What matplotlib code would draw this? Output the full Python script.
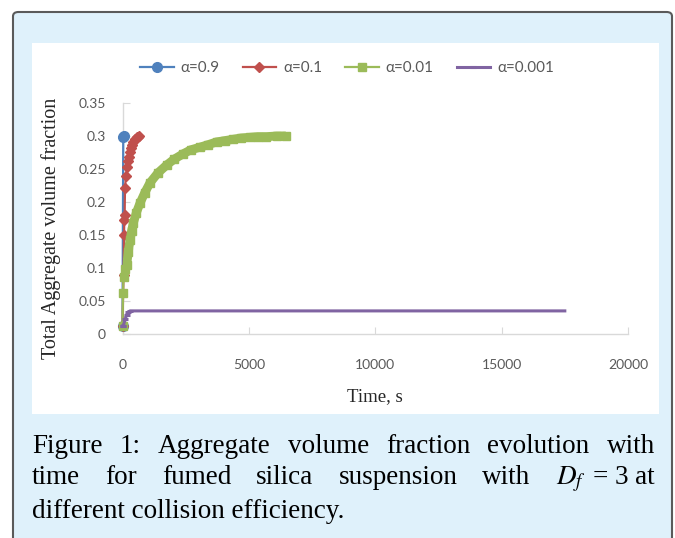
import matplotlib
matplotlib.use('Agg')
import matplotlib.pyplot as plt
from matplotlib.patches import FancyBboxPatch, Rectangle

plt.rcParams['mathtext.fontset'] = 'stix'

# 数据：时间 (s) 与总聚集体体积分数
t_09 = [0, 30, 60]
v_09 = [0.012, 0.299, 0.300]

t_01 = [0, 40, 60, 71, 85, 99, 140, 190, 230, 269, 300, 324, 370, 415, 490, 561, 620, 664]
v_01 = [0.012, 0.09, 0.15, 0.173, 0.180, 0.221, 0.24, 0.253, 0.262, 0.268, 0.276, 0.282, 0.287, 0.291, 0.295, 0.298, 0.299, 0.300]

t_001 = [0, 20, 40, 100, 166, 230, 296, 360, 427, 550, 690, 880, 1086, 1400, 1746, 2050, 2400,
         2700, 3060, 3400, 3720, 4050, 4377, 4700, 5036, 5350, 5696, 6100, 6460]
v_001 = [0.012, 0.062, 0.086, 0.098, 0.105, 0.125, 0.142, 0.156, 0.168, 0.184, 0.198, 0.214, 0.229, 0.244,
         0.256, 0.265, 0.273, 0.279, 0.283, 0.287, 0.291, 0.293, 0.295, 0.297, 0.298, 0.299, 0.299, 0.300, 0.300]

t_0001 = [0, 30, 100, 166, 230, 296, 600, 17500]
v_0001 = [0.012, 0.012, 0.022, 0.029, 0.033, 0.035, 0.035, 0.035]

labels = ['α=0.9', 'α=0.1', 'α=0.01', 'α=0.001']
colors = ['#4f81bd', '#c0504d', '#9bbb59', '#8064a2']
xticks = [0, 5000, 10000, 15000, 20000]
yticks = [0, 0.05, 0.1, 0.15, 0.2, 0.25, 0.3, 0.35]
ytick_labels = ['0', '0.05', '0.1', '0.15', '0.2', '0.25', '0.3', '0.35']

caption = [
    ['Figure', '1:', 'Aggregate', 'volume', 'fraction', 'evolution', 'with'],
    ['time', 'for', 'fumed', 'silica', 'suspension', 'with', '$D_f$', '=', '3', 'at'],
]
caption_last = 'different collision efficiency.'

W, H = 675, 538
fig = plt.figure(figsize=(W / 100, H / 100), dpi=100)
fig.patch.set_facecolor('white')


def fx(px):
    return px / W


def fy(py):
    return 1 - py / H


# 浅蓝色底框 + 白色图区
outer = FancyBboxPatch((fx(13), fy(570)), fx(672) - fx(13), fy(12) - fy(570),
                       boxstyle='round,pad=0,rounding_size=0.008',
                       transform=fig.transFigure, facecolor='#dff1fb',
                       edgecolor='#5a5a5a', lw=1.5, zorder=-2)
inner = Rectangle((fx(32), fy(414)), fx(659) - fx(32), fy(43) - fy(414),
                  transform=fig.transFigure, facecolor='white', edgecolor='none', zorder=-1)
fig.patches.extend([outer, inner])

ax = fig.add_axes([fx(122.5), fy(334), fx(628) - fx(122.5), fy(103) - fy(334)])
ax.patch.set_alpha(0)

h1, = ax.plot(t_09, v_09, color=colors[0], lw=1.6, marker='o', ms=7, clip_on=False, zorder=3)
h2, = ax.plot(t_01, v_01, color=colors[1], lw=1.6, marker='D', ms=5, clip_on=False, zorder=4)
# 绿色方块点很密，用粗线把方块连成带状
ax.plot(t_001[4:], v_001[4:], color=colors[2], lw=6.4, solid_capstyle='butt', zorder=5)
h3, = ax.plot(t_001, v_001, color=colors[2], lw=1.6, marker='s', ms=6.2, clip_on=False, zorder=5)
h4, = ax.plot(t_0001, v_0001, color=colors[3], lw=2.2, marker='_', ms=5, mew=2.2,
              markevery=[0, 1, 2, 3, 4, 5], clip_on=False, zorder=6)

ax.set_xlim(0, 20000)
ax.set_ylim(0, 0.35)
ax.set_xticks(xticks)
ax.set_xticklabels([str(x) for x in xticks])
ax.set_yticks(yticks)
ax.set_yticklabels(ytick_labels)
for s in ['top', 'right']:
    ax.spines[s].set_visible(False)
for s in ['left', 'bottom']:
    ax.spines[s].set_color('#d9d9d9')
    ax.spines[s].set_linewidth(1)
ax.tick_params(axis='both', direction='in', length=5, color='#d9d9d9',
               labelcolor='#595959', labelsize=10)
ax.tick_params(axis='x', pad=18)
ax.tick_params(axis='y', pad=12)
for lab in ax.get_xticklabels() + ax.get_yticklabels():
    lab.set_family('Lato')

fig.text(fx(51), fy(228), 'Total Aggregate volume fraction', rotation=90,
         ha='center', va='center', family='Liberation Serif', fontsize=14.5, color='#262626')
fig.text(fx(375), fy(397), 'Time, s', ha='center', va='center',
         family='Liberation Serif', fontsize=13.5, color='#262626')

fig.legend([h1, h2, h3, h4], labels, loc='center', bbox_to_anchor=(fx(347), fy(68)),
           ncol=4, frameon=False, handlelength=2.2, handletextpad=0.45,
           columnspacing=1.5, prop={'family': 'Lato', 'size': 11}, labelcolor='#595959')

# 图注：两端对齐
cap_size = 19.5
renderer = fig.canvas.get_renderer()


def justify(words, y, x0=32, x1=655, fixed=()):
    ts = [fig.text(0, fy(y), w, fontsize=cap_size, family='Liberation Serif',
                   ha='left', va='baseline', color='black') for w in words]
    ws = [t.get_window_extent(renderer).width for t in ts]
    # fixed 中的间隔保持普通空格宽度，其余间隔平均分配
    small = 7
    n_free = len(words) - 1 - len(fixed)
    gap = (x1 - x0 - sum(ws) - small * len(fixed)) / n_free
    x = x0
    for i, (t, w) in enumerate(zip(ts, ws)):
        t.set_x(fx(x))
        x += w + (small if i in fixed else gap)


justify(caption[0], 453)
justify(caption[1], 484, fixed=(6, 7, 8))
fig.text(fx(32), fy(518), caption_last, fontsize=cap_size, family='Liberation Serif',
         ha='left', va='baseline', color='black')

fig.savefig('out.png', dpi=100)
